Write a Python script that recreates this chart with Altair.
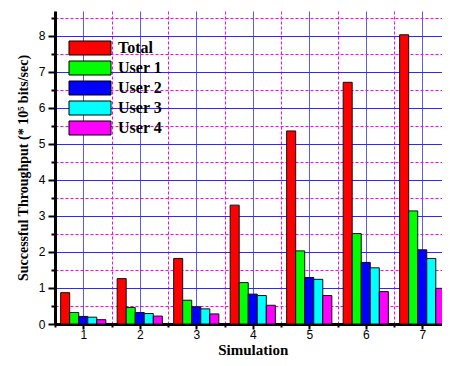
import altair as alt
import pandas as pd

simulations = [1, 2, 3, 4, 5, 6, 7]
series = ["Total", "User 1", "User 2", "User 3", "User 4"]
total = [0.87, 1.26, 1.82, 3.30, 5.36, 6.71, 8.03]
user1 = [0.32, 0.46, 0.66, 1.15, 2.03, 2.51, 3.14]
user2 = [0.21, 0.32, 0.48, 0.83, 1.29, 1.71, 2.06]
user3 = [0.19, 0.29, 0.42, 0.79, 1.24, 1.56, 1.82]
user4 = [0.12, 0.22, 0.28, 0.52, 0.79, 0.90, 0.99]
colors = ["#ff0000", "#00ff00", "#0000ff", "#00ffff", "#ff00ff"]
x_ticks = [0.5, 1, 1.5, 2, 2.5, 3, 3.5, 4, 4.5, 5, 5.5, 6, 6.5, 7, 7.5]
y_ticks = [0, 0.5, 1, 1.5, 2, 2.5, 3, 3.5, 4, 4.5, 5, 5.5, 6, 6.5, 7, 7.5, 8, 8.5]

values_by_series = [total, user1, user2, user3, user4]
rows = []
for name, vals in zip(series, values_by_series):
    for s, v in zip(simulations, vals):
        rows.append({"sim": s, "series": name, "value": v})
df = pd.DataFrame(rows)

major = "datum.value % 1 === 0"
label_expr = "datum.value % 1 === 0 ? format(datum.value, 'd') : ''"

y_axis = alt.Axis(
    values=y_ticks,
    labelExpr=label_expr,
    title="Successful Throughput (* 10\u2075 bits/sec)",
    titleFont="Liberation Serif", titleFontWeight="bold", titleFontSize=14,
    titleColor="black", titlePadding=8,
    labelFont="Liberation Sans", labelFontSize=12, labelColor="black",
    labelPadding=3,
    domainColor="black", domainWidth=3,
    tickColor="black", tickWidth=2,
    tickSize={"condition": {"test": major, "value": 7}, "value": 4},
    grid=True,
    gridColor={"condition": {"test": major, "value": "#2a2aff"}, "value": "#ff00ff"},
    gridDash={"condition": {"test": major, "value": []}, "value": [3, 2]},
    gridWidth=1,
)

x_axis = alt.Axis(
    values=x_ticks,
    labelExpr=label_expr,
    title="Simulation",
    titleFont="Liberation Serif", titleFontWeight="bold", titleFontSize=15,
    titleColor="black", titlePadding=2,
    labelFont="Liberation Sans", labelFontSize=12, labelColor="black",
    labelPadding=0, labelFlush=False, labelOverlap=False,
    domainColor="black", domainWidth=3,
    tickColor="black", tickWidth=2,
    tickSize={"condition": {"test": major, "value": 5}, "value": 3},
    grid=True,
    gridColor={"condition": {"test": major, "value": "#5a5aff"}, "value": "#ff00ff"},
    gridDash={"condition": {"test": major, "value": []}, "value": [3, 2]},
    gridWidth=1,
)

y_scale = alt.Scale(domain=[0, 8.69], nice=False, zero=True)

axes_layer = alt.Chart(df).mark_point(opacity=0).encode(
    x=alt.X("sim:Q", scale=alt.Scale(domain=[0.5, 7.5], nice=False, zero=False), axis=x_axis),
    y=alt.Y("value:Q", scale=y_scale, axis=y_axis),
)

bars = alt.Chart(df).mark_bar(stroke="#111111", strokeWidth=1).encode(
    x=alt.X("sim:N", sort=simulations, axis=None,
            scale=alt.Scale(paddingInner=0.2, paddingOuter=0.1)),
    xOffset=alt.XOffset("series:N", sort=series,
                        scale=alt.Scale(paddingInner=0, paddingOuter=0)),
    y=alt.Y("value:Q", scale=y_scale, axis=y_axis),
    color=alt.Color(
        "series:N", sort=series,
        scale=alt.Scale(domain=series, range=colors),
        legend=alt.Legend(
            title=None, orient="none", legendX=27, legendY=29, padding=0,
            symbolType="M-3,-1H3V1H-3Z", symbolSize=196,
            symbolStrokeColor="black", symbolStrokeWidth=1, symbolOpacity=1,
            labelFont="Liberation Serif", labelFontWeight="bold",
            labelFontSize=16, labelColor="black", labelOffset=20,
            rowPadding=2,
        ),
    ),
)

chart = alt.layer(axes_layer, bars).resolve_scale(x="independent").properties(
    width=395.5, height=313,
    padding={"left": 47, "top": 3, "right": -8.5, "bottom": 34},
    autosize=alt.AutoSizeParams(type="none"),
    background="white",
).configure_view(stroke=None)

chart.save("out.html", embed_options={"renderer": "svg", "actions": False})
